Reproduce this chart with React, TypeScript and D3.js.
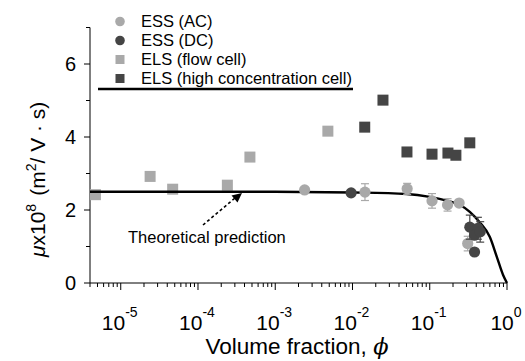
import * as d3 from 'd3'

// [phi, mu, err]
const essAC: [number, number, number][] = [
  [2.4e-3, 2.55, 0], [0.0145, 2.49, 0.23], [0.051, 2.58, 0.15], [0.107, 2.25, 0.2],
  [0.17, 2.14, 0.17], [0.24, 2.19, 0], [0.31, 1.08, 0.2],
]
const essDC: [number, number, number][] = [
  [0.0096, 2.47, 0], [0.33, 1.53, 0.33], [0.42, 1.5, 0.3], [0.38, 1.31, 0], [0.45, 1.4, 0.28], [0.38, 0.85, 0],
]
const elsFlow: [number, number, number][] = [
  [4.7e-6, 2.42, 0], [2.4e-5, 2.92, 0], [4.7e-5, 2.57, 0], [2.4e-4, 2.68, 0], [4.7e-4, 3.45, 0], [4.8e-3, 4.16, 0],
]
const elsHigh: [number, number, number][] = [
  [0.0144, 4.27, 0], [0.0248, 5.01, 0], [0.0507, 3.59, 0], [0.107, 3.53, 0.12],
  [0.172, 3.56, 0.1], [0.218, 3.5, 0], [0.33, 3.84, 0],
]
// theoretical curve
const theory: [number, number][] = [
  [4e-6, 2.5], [1e-3, 2.5], [1e-2, 2.48], [0.05, 2.44], [0.1, 2.36], [0.17, 2.25], [0.25, 2.13],
  [0.33, 1.95], [0.44, 1.67], [0.6, 1.26], [0.74, 0.71], [0.89, 0.22], [1.0, 0],
]
const xMajor = [1e-5, 1e-4, 1e-3, 1e-2, 1e-1, 1]
const yMajor = [0, 2, 4, 6]
const yMinor = [1, 3, 5, 7]
const legend = [
  { label: 'ESS (AC)', shape: 'circle', color: '#a9a9a9' },
  { label: 'ESS (DC)', shape: 'circle', color: '#454545' },
  { label: 'ELS (flow cell)', shape: 'square', color: '#a9a9a9' },
  { label: 'ELS (high concentration cell)', shape: 'square', color: '#454545' },
]

const LIGHT = '#a9a9a9'
const DARK = '#454545'
const FONT = '"Liberation Sans", Arial, sans-serif'

export default function App() {
  const x = d3.scaleLog().domain([4e-6, 1]).range([90, 507])
  const y = d3.scaleLinear().domain([0, 7]).range([283, 27.5])
  const xMinor = x.ticks().filter((t) => !xMajor.some((m) => Math.abs(m - t) / m < 1e-6))
  const line = d3.line<[number, number]>().x((d) => x(d[0])).y((d) => y(d[1])).curve(d3.curveMonotoneX)

  const errBars = (data: [number, number, number][], color: string, key: string) =>
    data.filter((d) => d[2] > 0).map((d, i) => {
      const cx = x(d[0])
      const y1 = y(d[1] + d[2])
      const y2 = y(d[1] - d[2])
      return (
        <g key={key + i} stroke={color} strokeWidth={1.2}>
          <line x1={cx} x2={cx} y1={y1} y2={y2} />
          <line x1={cx - 4} x2={cx + 4} y1={y1} y2={y1} />
          <line x1={cx - 4} x2={cx + 4} y1={y2} y2={y2} />
        </g>
      )
    })
  const circles = (data: [number, number, number][], color: string, key: string) =>
    data.map((d, i) => <circle key={key + i} cx={x(d[0])} cy={y(d[1])} r={5.6} fill={color} />)
  const squares = (data: [number, number, number][], color: string, key: string) =>
    data.map((d, i) => <rect key={key + i} x={x(d[0]) - 5.5} y={y(d[1]) - 5.5} width={11} height={11} fill={color} />)

  return (
    <svg width={525} height={361} style={{ position: 'absolute', left: 0, top: 0, background: '#fff' }} fontFamily={FONT}>
      {/* axes */}
      <line x1={90} x2={90} y1={y(7)} y2={y(0)} stroke="#000" />
      <line x1={90} x2={x(1)} y1={283} y2={283} stroke="#000" />
      {yMajor.map((t) => (
        <g key={'ym' + t}>
          <line x1={84} x2={90} y1={y(t)} y2={y(t)} stroke="#000" />
          <text x={76} y={y(t) + 7} fontSize={20} textAnchor="end">{t}</text>
        </g>
      ))}
      {yMinor.map((t) => <line key={'yn' + t} x1={86} x2={90} y1={y(t)} y2={y(t)} stroke="#000" />)}
      {xMinor.map((t, i) => <line key={'xn' + i} x1={x(t)} x2={x(t)} y1={283} y2={287} stroke="#000" />)}
      {xMajor.map((t) => (
        <g key={'xm' + t}>
          <line x1={x(t)} x2={x(t)} y1={283} y2={290} stroke="#000" />
          <text x={x(t) - 1} y={330} fontSize={21} textAnchor="middle">
            10<tspan dy={-13} fontSize={14}>{Math.round(Math.log10(t))}</tspan>
          </text>
        </g>
      ))}
      <text x={297} y={354} fontSize={22.5} textAnchor="middle">
        Volume fraction, <tspan fontStyle="italic" fontFamily="'DejaVu Serif', serif">ϕ</tspan>
      </text>
      <text transform="translate(45,257) rotate(-90)" fontSize={21}>
        <tspan fontStyle="italic">μ</tspan>x10<tspan dy={-9} fontSize={14}>8</tspan>
        <tspan dy={9} dx={8}>(m</tspan><tspan dy={-9} fontSize={14}>2</tspan><tspan dy={9}>/ V · s)</tspan>
      </text>

      {/* legend */}
      {legend.map((l, i) => {
        const ly = 21.5 + i * 19
        return (
          <g key={l.label}>
            {l.shape === 'circle'
              ? <circle cx={120} cy={ly} r={4.8} fill={l.color} />
              : <rect x={115.5} y={ly - 4.5} width={9} height={9} fill={l.color} />}
            <text x={141} y={ly + 5.5} fontSize={16.5}>{l.label}</text>
          </g>
        )
      })}
      <line x1={98} x2={353} y1={89} y2={89} stroke="#000" strokeWidth={2.6} />

      {/* annotation */}
      <line x1={203} y1={225} x2={235} y2={198} stroke="#000" strokeWidth={1.6} strokeDasharray="3,2.5" />
      <path d="M242,193 L231.5,195.5 L237.5,202.5 Z" fill="#000" />
      <text x={128} y={243} fontSize={16.5}>Theoretical prediction</text>

      {/* data */}
      {squares(elsFlow, LIGHT, 'ef')}
      {errBars(elsHigh, LIGHT, 'ehe')}
      {squares(elsHigh, DARK, 'eh')}
      <path d={line(theory) ?? ''} fill="none" stroke="#000" strokeWidth={2.4} />
      {errBars(essAC, LIGHT, 'ace')}
      {circles(essAC, LIGHT, 'ac')}
      {errBars(essDC, DARK, 'dce')}
      {circles(essDC, DARK, 'dc')}
    </svg>
  )
}
